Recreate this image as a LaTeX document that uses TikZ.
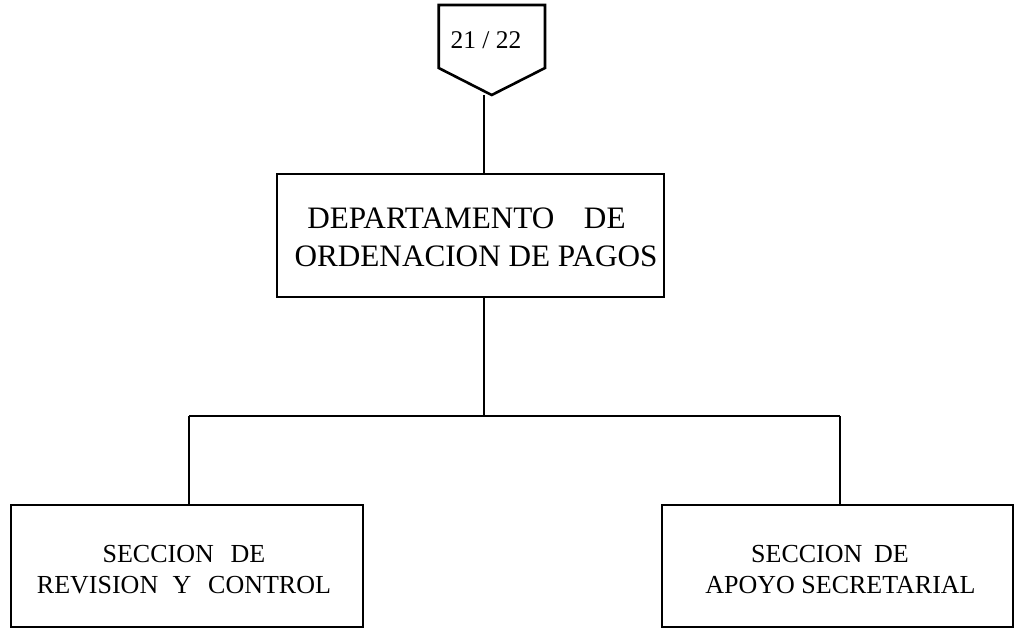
\documentclass[tikz,border=0pt]{standalone}
\usepackage{fontspec}
\setmainfont{Liberation Serif}
\begin{document}
\begin{tikzpicture}[x=1pt,y=-1pt,
  line/.style={line width=2.6pt},
  box/.style={draw,line width=2.6pt,rectangle,inner sep=0pt,align=center},
  lbl/.style={inner sep=0pt,align=center}]
\useasboundingbox (0,0) rectangle (1014,629);
% off-page connector
\draw[line,line join=miter] (438.7,5) -- (545,5) -- (545,68) -- (491.7,95) -- (438.7,68) -- cycle;
\node[lbl,font=\fontsize{25.5}{30}\selectfont,anchor=base] (pent) at (486,48) {21 / 22};
% boxes
\node[box,minimum width=387pt,minimum height=123pt] (dept) at (470.5,235.5) {};
\node[lbl,font=\fontsize{31.2}{38}\selectfont,anchor=base] (deptA) at (466.5,228) {DEPARTAMENTO\hspace{0.95em}DE};
\node[lbl,font=\fontsize{31.2}{38}\selectfont,anchor=base] (deptB) at (476,266) {ORDENACION DE PAGOS};
\node[box,minimum width=352pt,minimum height=122pt] (left) at (187,566) {};
\node[lbl,font=\fontsize{26}{31}\selectfont,anchor=base] (leftA) at (184,562) {SECCION\hspace{0.65em}DE};
\node[lbl,font=\fontsize{26}{31}\selectfont,anchor=base] (leftB) at (184,593) {REVISION\hspace{0.55em}Y\hspace{0.65em}CONTROL};
\node[box,minimum width=351pt,minimum height=122pt] (right) at (837.5,566) {};
\node[lbl,font=\fontsize{26}{31}\selectfont,anchor=base] (rightA) at (830,562) {SECCION\hspace{0.45em}DE};
\node[lbl,font=\fontsize{26}{31}\selectfont,anchor=base] (rightB) at (840.5,593) {APOYO SECRETARIAL};
% connectors
\coordinate (c1) at (484,95);
\coordinate (bus) at (484,416);
\coordinate (bl) at (189,416);
\coordinate (br) at (840,416);
\draw[line] (c1) -- (c1 |- dept.north);
\draw[line] (bus |- dept.south) -- (bus);
\draw[line] (bl) -- (br);
\draw[line] (bl) -- (bl |- left.north);
\draw[line] (br) -- (br |- right.north);
\end{tikzpicture}
\end{document}
